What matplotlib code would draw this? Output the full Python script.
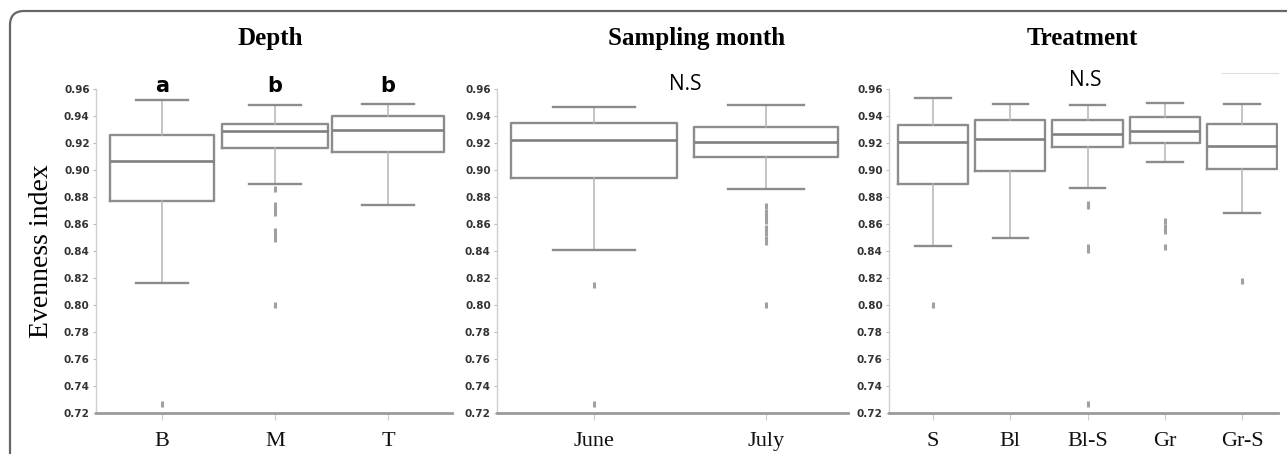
import numpy as np
import matplotlib
matplotlib.use("Agg")
import matplotlib.pyplot as plt
from matplotlib.patches import FancyBboxPatch
from matplotlib.lines import Line2D

# --- data ---
depth_cats = ["B", "M", "T"]
depth_whislo = [0.816, 0.890, 0.874]
depth_q1 = [0.877, 0.916, 0.913]
depth_med = [0.907, 0.929, 0.930]
depth_q3 = [0.926, 0.934, 0.940]
depth_whishi = [0.952, 0.948, 0.949]
depth_fliers = [[0.727],
                [0.886, 0.874, 0.871, 0.868, 0.855, 0.852, 0.849, 0.800],
                []]
depth_letters = ["a", "b", "b"]

month_cats = ["June", "July"]
month_whislo = [0.841, 0.886]
month_q1 = [0.894, 0.910]
month_med = [0.922, 0.921]
month_q3 = [0.935, 0.932]
month_whishi = [0.947, 0.948]
month_fliers = [[0.815, 0.727],
                [0.873, 0.869, 0.865, 0.862, 0.857, 0.853, 0.849, 0.847, 0.800]]

treat_cats = ["S", "Bl", "Bl-S", "Gr", "Gr-S"]
treat_whislo = [0.844, 0.850, 0.887, 0.906, 0.868]
treat_q1 = [0.890, 0.899, 0.917, 0.920, 0.901]
treat_med = [0.921, 0.923, 0.927, 0.929, 0.918]
treat_q3 = [0.933, 0.937, 0.937, 0.939, 0.934]
treat_whishi = [0.953, 0.949, 0.948, 0.950, 0.949]
treat_fliers = [[0.800], [], [0.875, 0.873, 0.843, 0.841, 0.727],
                [0.862, 0.858, 0.855, 0.843], [0.818]]

yticks = [0.72, 0.74, 0.76, 0.78, 0.80, 0.82, 0.84, 0.86, 0.88, 0.90, 0.92, 0.94, 0.96]

W, H = 1287, 454
fig = plt.figure(figsize=(W / 100, H / 100), dpi=100)

# rounded frame running off the right and bottom edges
frame = FancyBboxPatch((10 / W, -0.2), 1.2, 1 - 11 / H + 0.2,
                       boxstyle="round,pad=0,rounding_size=0.011",
                       transform=fig.transFigure, fill=False,
                       edgecolor="#666666", linewidth=1.6, mutation_aspect=W / H)
fig.patches.append(frame)

box_c = "#8c8c8c"
whisk_c = "#b5b5b5"
bottom_px, top_px = 413, 89

def make_ax(left_px, right_px):
    return fig.add_axes([left_px / W, 1 - bottom_px / H,
                         (right_px - left_px) / W, (bottom_px - top_px) / H])

def draw(ax, cats, wlo, q1, med, q3, whi, fliers, widths, capw, xlim):
    stats = []
    for i in range(len(cats)):
        stats.append(dict(whislo=wlo[i], q1=q1[i], med=med[i], q3=q3[i],
                          whishi=whi[i], fliers=fliers[i]))
    ax.bxp(stats, positions=range(len(cats)), widths=widths, capwidths=capw,
           boxprops=dict(color=box_c, linewidth=1.7),
           medianprops=dict(color="#808080", linewidth=1.9),
           whiskerprops=dict(color=whisk_c, linewidth=1.1),
           capprops=dict(color=box_c, linewidth=1.7),
           flierprops=dict(marker="|", markersize=4.5, markeredgewidth=2.2,
                           markeredgecolor="#a0a0a0", linestyle="none"))
    ax.set_xlim(*xlim)
    ax.set_ylim(0.72, 0.96)
    ax.set_yticks(yticks)
    ax.set_yticklabels(["%.2f" % t for t in yticks], fontsize=7.5,
                       fontweight="bold", color="#333333")
    ax.set_xticks(range(len(cats)))
    ax.set_xticklabels(cats, family="Liberation Serif", fontsize=16, color="#111111")
    ax.tick_params(axis="y", length=2.5, width=0.8, color="#bbbbbb", pad=2)
    ax.tick_params(axis="x", length=5, width=0.8, color="#cccccc", pad=9)
    for s in ["top", "right"]:
        ax.spines[s].set_visible(False)
    ax.spines["left"].set_color("#cfcfcf")
    ax.spines["left"].set_linewidth(1.0)
    ax.spines["bottom"].set_color("#9a9a9a")
    ax.spines["bottom"].set_linewidth(2.0)
    ax.patch.set_alpha(0)

ax1 = make_ax(96, 452)
draw(ax1, depth_cats, depth_whislo, depth_q1, depth_med, depth_q3, depth_whishi,
     depth_fliers, [0.92, 0.94, 0.99], 0.46, (-0.584, 2.566))
for i, t in enumerate(depth_letters):
    ax1.text(i, 0.958, t, ha="center", va="baseline", fontsize=15,
             fontweight="bold", family="DejaVu Sans", clip_on=False)
ax1.set_ylabel("Evenness index", family="Liberation Serif", fontsize=20, labelpad=7)

ax2 = make_ax(497, 848)
draw(ax2, month_cats, month_whislo, month_q1, month_med, month_q3, month_whishi,
     month_fliers, [0.97, 0.84], [0.48, 0.44], (-0.564, 1.477))
ax2.text(0.53, 0.9593, "N.S", ha="center", va="baseline", fontsize=15,
         family="Open Sans", clip_on=False)

ax3 = make_ax(889, 1278)
draw(ax3, treat_cats, treat_whislo, treat_q1, treat_med, treat_q3, treat_whishi,
     treat_fliers, 0.91, 0.46, (-0.57, 4.466))
ax3.text(1.97, 0.962, "N.S", ha="center", va="baseline", fontsize=15,
         family="Open Sans", clip_on=False)

# faint stray line at the top right of the last panel
fig.lines.append(Line2D([1222 / W, 1278 / W], [1 - 73 / H, 1 - 73 / H],
                        transform=fig.transFigure, color="#dddddd", linewidth=0.8))

for x, t in [(270, "Depth"), (697, "Sampling month"), (1082, "Treatment")]:
    fig.text(x / W, 1 - 45 / H, t, ha="center", va="baseline",
             family="Liberation Serif", fontweight="bold", fontsize=18)

fig.savefig("out.png", dpi=100)
